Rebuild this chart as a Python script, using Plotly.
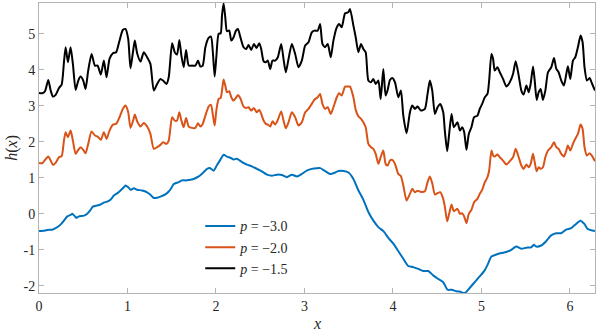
import plotly.graph_objects as go

# curve samples
x_smooth = [0.000, 0.075, 0.113, 0.150, 0.188, 0.244, 0.282, 0.320, 0.357, 0.376, 0.406, 0.421, 0.451, 0.508,
            0.545, 0.583, 0.609, 0.658, 0.695, 0.733, 0.771, 0.808, 0.846, 0.883, 0.921, 0.959, 0.977, 1.008,
            1.034, 1.071, 1.109, 1.165, 1.222, 1.259, 1.297, 1.335, 1.372, 1.429, 1.466, 1.496, 1.523,
            1.579, 1.616, 1.654, 1.692, 1.748, 1.805, 1.861, 1.899, 1.936, 1.974, 2.012, 2.049, 2.087, 2.125,
            2.162, 2.200, 2.237, 2.294, 2.350, 2.406, 2.463, 2.519, 2.576, 2.632, 2.688, 2.745, 2.801, 2.857,
            2.914, 2.970, 3.026, 3.083, 3.139,
            3.178, 3.234, 3.290, 3.328, 3.384, 3.441, 3.497, 3.553, 3.610, 3.666, 3.722, 3.779, 3.835, 3.892,
            3.948, 4.004, 4.061, 4.117, 4.173, 4.230, 4.286, 4.343, 4.399, 4.455, 4.512, 4.568, 4.617, 4.662,
            4.718,
            4.754, 4.811, 4.867, 4.924, 4.980, 5.036, 5.074, 5.111, 5.168, 5.224, 5.280, 5.337, 5.393, 5.449,
            5.506, 5.562, 5.592, 5.618, 5.675, 5.731, 5.787, 5.844, 5.900, 5.957, 6.013, 6.069, 6.118, 6.163,
            6.201, 6.283]
h_p30 = [-0.48, -0.46, -0.44, -0.44, -0.40, -0.30, -0.19, -0.07, -0.03, 0.00, -0.07, -0.11, -0.07, -0.05,
         0.00, 0.11, 0.20, 0.23, 0.26, 0.31, 0.34, 0.39, 0.51, 0.57, 0.65, 0.74, 0.79, 0.74,
         0.67, 0.71, 0.67, 0.65, 0.60, 0.53, 0.44, 0.45, 0.48, 0.54, 0.62, 0.72, 0.83,
         0.88, 0.93, 0.93, 0.94, 0.97, 1.04, 1.16, 1.25, 1.27, 1.20, 1.36, 1.50, 1.64, 1.59,
         1.56, 1.51, 1.53, 1.44, 1.37, 1.32, 1.25, 1.18, 1.09, 1.06, 1.09, 1.08, 1.02, 1.09,
         1.04, 1.11, 1.20, 1.25, 1.27,
         1.27, 1.19, 1.11, 1.13, 1.19, 1.19, 1.15, 0.97, 0.65, 0.39, 0.05, -0.19, -0.37, -0.48,
         -0.67, -0.83, -1.04, -1.25, -1.45, -1.48, -1.53, -1.59, -1.59, -1.71, -1.81, -1.90, -2.11, -2.11,
         -2.15,
         -2.16, -2.20, -2.06, -1.90, -1.74, -1.57, -1.39, -1.19, -1.13, -1.09, -1.06, -1.00, -0.91, -0.97,
         -0.94, -0.93, -0.86, -0.91, -0.88, -0.76, -0.60, -0.54, -0.54, -0.44, -0.40, -0.28, -0.19, -0.28,
         -0.42, -0.48]

x_rough = [0.000, 0.038, 0.068, 0.105, 0.132, 0.158, 0.188, 0.226, 0.256, 0.282, 0.301, 0.327, 0.357, 0.383,
           0.414, 0.444, 0.470, 0.500, 0.526, 0.556, 0.594, 0.632, 0.662, 0.699, 0.733, 0.763, 0.797, 0.835,
           0.872, 0.910, 0.947, 0.977, 1.008, 1.034, 1.064, 1.083, 1.109, 1.147, 1.184, 1.222, 1.259, 1.297,
           1.335, 1.372, 1.402, 1.440, 1.466, 1.504, 1.534,
           1.560, 1.586, 1.609, 1.635, 1.662, 1.692, 1.729, 1.767, 1.797, 1.823, 1.850, 1.880, 1.917, 1.944,
           1.966, 1.985, 2.004, 2.030, 2.053, 2.068, 2.086, 2.105, 2.124, 2.150, 2.173, 2.199, 2.226, 2.248,
           2.274, 2.312, 2.342, 2.368, 2.398, 2.429, 2.459, 2.489, 2.511, 2.538, 2.564, 2.586, 2.613, 2.639,
           2.669, 2.699, 2.737, 2.763, 2.789, 2.820, 2.857, 2.895, 2.932, 2.970, 3.008, 3.045, 3.083, 3.113,
           3.150, 3.177, 3.203, 3.233, 3.263, 3.297, 3.327, 3.365, 3.391, 3.421, 3.459, 3.496, 3.515, 3.553,
           3.579, 3.609, 3.639, 3.665, 3.692, 3.722, 3.752, 3.778, 3.805, 3.835, 3.861, 3.891, 3.917, 3.940,
           3.966, 3.992, 4.023, 4.060, 4.090, 4.117, 4.154, 4.192, 4.218, 4.248, 4.278, 4.316, 4.361, 4.391,
           4.417, 4.444, 4.474, 4.504, 4.534, 4.568, 4.586, 4.613, 4.635, 4.662, 4.688,
           4.729, 4.756, 4.782, 4.805, 4.831, 4.857, 4.887, 4.917, 4.955, 4.981, 5.008, 5.038, 5.068, 5.087,
           5.113, 5.132, 5.150, 5.180, 5.207, 5.244, 5.282, 5.320, 5.357, 5.387, 5.421, 5.451, 5.477, 5.508,
           5.534, 5.556, 5.583, 5.602, 5.624, 5.647, 5.669, 5.695, 5.722, 5.752, 5.789, 5.820, 5.846, 5.872,
           5.902, 5.932, 5.959, 5.977, 6.004, 6.034, 6.060, 6.090, 6.120, 6.143, 6.165, 6.192, 6.222, 6.248,
           6.283]
h_p20 = [1.417, 1.407, 1.500, 1.593, 1.481, 1.361, 1.417, 1.574, 1.602, 2.037, 2.269, 2.130, 2.315, 2.037,
         1.667, 1.778, 1.852, 1.778, 1.685, 1.944, 2.287, 2.176, 2.148, 2.056, 2.269, 2.083, 2.315, 2.481,
         2.500, 2.685, 2.917, 3.009, 2.824, 2.389, 2.593, 2.759, 2.574, 2.426, 2.528, 2.426, 2.222, 1.806,
         1.852, 1.917, 1.991, 1.944, 2.037, 2.685, 2.593,
         2.593, 2.824, 2.593, 2.407, 2.667, 2.426, 2.389, 2.389, 2.519, 2.426, 2.500, 2.731, 2.981, 3.028,
         2.731, 2.454, 2.870, 3.194, 3.222, 3.426, 3.731, 3.565, 3.380, 3.407, 3.241, 3.148, 3.222, 3.306,
         3.222, 2.981, 2.944, 2.963, 2.870, 2.944, 2.824, 2.889, 2.778, 2.593, 2.500, 2.481, 2.426, 2.574,
         2.481, 2.611, 2.843, 2.593, 2.380, 2.546, 2.824, 2.685, 2.454, 2.546, 2.824, 2.917, 3.056, 3.176,
         3.241, 3.333, 3.056, 2.917, 2.963, 2.778, 2.963, 3.241, 3.352, 3.287, 3.537, 3.537, 3.537, 3.241,
         2.889, 2.713, 2.639, 2.546, 2.407, 1.944, 1.852, 1.806, 1.667, 1.389, 1.574, 1.759, 1.389, 1.343,
         1.481, 1.500, 1.389, 1.111, 1.046, 0.787, 0.370, 0.556, 0.694, 0.602, 0.639, 0.611, 0.630, 0.880,
         1.037, 0.852, 0.537, 0.574, 0.602, 0.417, 0.204, -0.204, 0.000, 0.259, 0.074,
         0.139, 0.000, 0.019, -0.074, -0.259, 0.000, 0.111, 0.324, 0.417, 0.556, 0.667, 0.880, 1.019, 1.204,
         1.759, 1.620, 1.593, 1.648, 1.574, 1.481, 1.370, 1.463, 1.574, 1.806, 1.574, 1.343, 1.250, 1.370,
         1.296, 1.389, 1.667, 1.435, 1.185, 1.296, 1.250, 1.296, 1.574, 1.759, 1.852, 1.991, 1.852, 1.806,
         1.667, 1.593, 1.759, 1.898, 1.759, 1.944, 2.083, 2.222, 2.481, 2.361, 1.852, 1.620, 1.685, 1.620,
         1.463]
h_p15 = [3.361, 3.352, 3.407, 3.722, 3.426, 3.259, 3.306, 3.500, 3.593, 4.213, 4.630, 4.213, 4.630, 4.167,
         3.444, 3.704, 3.815, 3.704, 3.472, 3.981, 4.444, 4.120, 4.120, 3.870, 4.259, 3.796, 4.306, 4.463,
         4.491, 4.815, 5.111, 5.139, 4.861, 4.046, 4.537, 4.815, 4.463, 4.231, 4.491, 4.352, 4.167, 3.426,
         3.611, 3.750, 3.704, 3.611, 3.796, 4.741, 4.491,
         4.426, 4.833, 4.398, 4.074, 4.556, 4.120, 4.120, 4.120, 4.259, 4.093, 4.120, 4.630, 4.889, 4.926,
         4.444, 3.815, 4.352, 5.000, 5.019, 5.509, 5.852, 5.463, 5.074, 5.093, 4.815, 4.907, 5.093, 5.139,
         4.926, 4.630, 4.583, 4.694, 4.556, 4.722, 4.611, 4.741, 4.583, 4.241, 4.213, 4.259, 4.028, 4.259,
         4.259, 4.352, 4.722, 4.306, 3.935, 4.306, 4.722, 4.444, 4.074, 4.259, 4.676, 4.769, 5.046, 5.093,
         5.093, 5.278, 4.722, 4.630, 4.722, 4.352, 4.815, 5.185, 5.278, 5.185, 5.574, 5.602, 5.694, 5.231,
         4.907, 4.491, 4.722, 4.583, 4.491, 3.704, 3.657, 3.750, 3.611, 3.704, 3.194, 4.028, 3.287, 3.444,
         3.722, 3.778, 3.657, 3.241, 3.426, 2.731, 2.241, 2.824, 3.009, 2.917, 2.981, 2.870, 2.917, 3.333,
         3.704, 3.426, 2.778, 2.963, 3.056, 2.824, 2.315, 1.741, 2.222, 2.778, 2.407,
         2.546, 2.315, 2.407, 2.269, 1.778, 2.222, 2.407, 2.685, 2.731, 2.917, 3.056, 3.241, 3.333, 3.704,
         4.444, 4.306, 3.981, 4.074, 3.935, 3.750, 3.537, 3.657, 3.889, 4.241, 3.843, 3.426, 3.315, 3.565,
         3.380, 3.611, 4.093, 3.704, 3.167, 3.380, 3.472, 3.167, 3.426, 3.935, 4.074, 4.333, 4.028, 3.935,
         3.704, 3.565, 3.889, 4.102, 3.750, 4.259, 4.352, 4.630, 4.954, 4.769, 4.074, 3.704, 3.778, 3.630,
         3.426]

x_ticks = [0, 1, 2, 3, 4, 5, 6]
y_ticks = [-2, -1, 0, 1, 2, 3, 4, 5]

SERIF = "Liberation Serif"
TEXT_COLOR = "#262626"

fig = go.Figure()

fig.add_trace(go.Scatter(x=x_smooth, y=h_p30, mode="lines", name="<i>p</i> = \u22123.0",
                         line=dict(color="#0072BD", width=2, shape="spline", smoothing=0.6)))
fig.add_trace(go.Scatter(x=x_rough, y=h_p20, mode="lines", name="<i>p</i> = \u22122.0",
                         line=dict(color="#D95319", width=2, shape="spline", smoothing=0.6)))
fig.add_trace(go.Scatter(x=x_rough, y=h_p15, mode="lines", name="<i>p</i> = \u22121.5",
                         line=dict(color="#000000", width=2, shape="spline", smoothing=0.6)))

axis_style = dict(showgrid=False, zeroline=False, showline=True, linecolor="#b4b4b4", linewidth=1,
                  mirror="ticks", ticks="inside", ticklen=5, tickcolor="#b4b4b4", automargin=False,
                  tickfont=dict(family=SERIF, size=14, color=TEXT_COLOR))

fig.update_xaxes(range=[0, 6.2832], tickvals=x_ticks, ticktext=[str(t) for t in x_ticks], **axis_style)
fig.update_yaxes(range=[-2.2, 5.86], tickvals=y_ticks, ticktext=[str(t) for t in y_ticks], **axis_style)

# axis titles as annotations so the plot area stays put
fig.add_annotation(text="<i>x</i>", xref="paper", yref="paper", x=0.5, y=-0.106,
                   xanchor="center", yanchor="middle", showarrow=False,
                   font=dict(family=SERIF, size=16, color=TEXT_COLOR))
fig.add_annotation(text="<i>h</i>(<i>x</i>)", xref="paper", yref="paper", x=-0.049, y=0.5,
                   xanchor="center", yanchor="middle", textangle=-90, showarrow=False,
                   font=dict(family=SERIF, size=16, color=TEXT_COLOR))

fig.update_layout(
    width=598, height=333,
    margin=dict(l=39, r=3, t=3, b=40),
    paper_bgcolor="white", plot_bgcolor="white",
    showlegend=True,
    legend=dict(x=0.29, y=0.285, xanchor="left", yanchor="top", bgcolor="rgba(0,0,0,0)",
                font=dict(family=SERIF, size=14, color=TEXT_COLOR),
                itemwidth=30, tracegroupgap=0),
)

fig.write_html("out.html", config={"displayModeBar": False},
               post_script="document.body.style.margin='0';")
